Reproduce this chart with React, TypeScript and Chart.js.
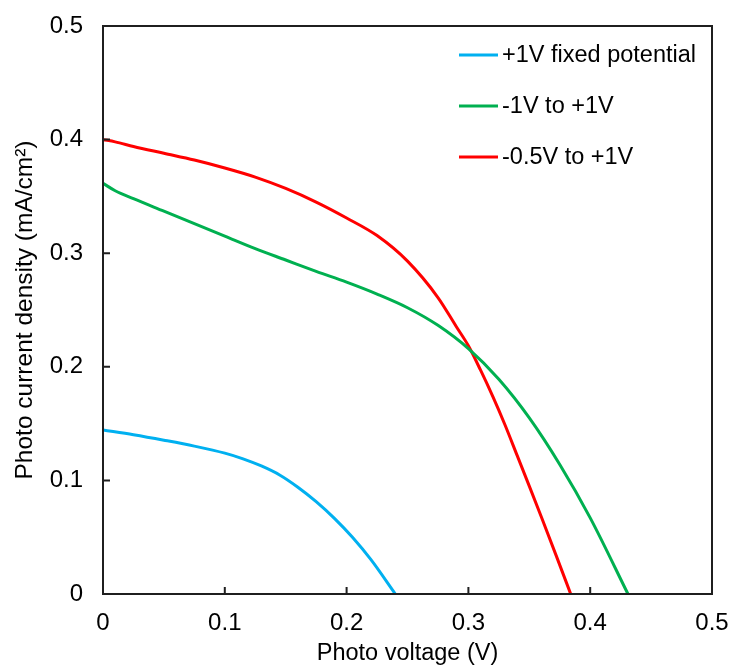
import React, { useEffect, useRef } from "react";
import { Chart, registerables } from "chart.js";

Chart.register(...registerables);

// Photo voltage (V) and photo current density (mA/cm²)
const voltageFixed = [0, 0.025, 0.05, 0.075, 0.1, 0.115, 0.13, 0.145, 0.16, 0.175, 0.19, 0.205, 0.22, 0.24];
const currentFixed = [0.1444, 0.1402, 0.1354, 0.1302, 0.124, 0.119, 0.1127, 0.1048, 0.094, 0.0813, 0.0666, 0.0497, 0.0302, 0];

const voltageMinus1 = [0, 0.01, 0.025, 0.05, 0.075, 0.1, 0.125, 0.15, 0.175, 0.2, 0.225, 0.25, 0.275, 0.3, 0.325, 0.35, 0.375, 0.4, 0.431];
const currentMinus1 = [0.3615, 0.355, 0.348, 0.337, 0.326, 0.315, 0.304, 0.294, 0.284, 0.2745, 0.264, 0.252, 0.2365, 0.216, 0.189, 0.155, 0.114, 0.067, 0];

const voltageMinus05 = [0, 0.01, 0.025, 0.05, 0.075, 0.1, 0.125, 0.15, 0.175, 0.2, 0.225, 0.25, 0.275, 0.29, 0.3, 0.31, 0.32, 0.33, 0.34, 0.35, 0.36, 0.372, 0.384];
const currentMinus05 = [0.4, 0.398, 0.394, 0.388, 0.382, 0.375, 0.367, 0.357, 0.345, 0.331, 0.3155, 0.293, 0.261, 0.2355, 0.2185, 0.197, 0.174, 0.149, 0.122, 0.095, 0.0675, 0.034, 0];

const seriesLabels = ["+1V fixed potential", "-1V to +1V", "-0.5V to +1V"];
const seriesColors = ["#00B0F0", "#00B050", "#FF0000"];

const xTitle = "Photo voltage (V)";
const yTitle = "Photo current density (mA/cm\u00B2)";

const FONT = "'Liberation Sans', Arial, sans-serif";
const AXIS_COLOR = "#1f1f1f";

const toPoints = (xs: number[], ys: number[]) => xs.map((x, i) => ({ x, y: ys[i] }));

const framePlugin = {
  id: "frameAndLegend",
  afterDraw(chart: any) {
    const { ctx, chartArea } = chart;
    const { left, right, top, bottom } = chartArea;
    const xs = chart.scales.x;
    const ys = chart.scales.y;
    ctx.save();
    ctx.strokeStyle = AXIS_COLOR;
    ctx.lineWidth = 2;
    ctx.strokeRect(left, top, right - left, bottom - top);
    // inward tick marks
    const tickLen = 7;
    ctx.beginPath();
    xs.ticks.forEach((t: any) => {
      const px = xs.getPixelForValue(t.value);
      if (Math.abs(px - left) < 1 || Math.abs(px - right) < 1) return;
      ctx.moveTo(px, bottom);
      ctx.lineTo(px, bottom - tickLen);
    });
    ys.ticks.forEach((t: any) => {
      const py = ys.getPixelForValue(t.value);
      if (Math.abs(py - top) < 1 || Math.abs(py - bottom) < 1) return;
      ctx.moveTo(left, py);
      ctx.lineTo(left + tickLen, py);
    });
    ctx.stroke();

    // legend
    const lx0 = right - 253;
    const lx1 = right - 214;
    const ly0 = top + 29;
    const step = 51;
    ctx.font = `23.5px ${FONT}`;
    ctx.textBaseline = "middle";
    ctx.textAlign = "left";
    chart.data.datasets.forEach((ds: any, i: number) => {
      const y = ly0 + i * step;
      ctx.strokeStyle = ds.borderColor;
      ctx.lineWidth = 3;
      ctx.beginPath();
      ctx.moveTo(lx0, y);
      ctx.lineTo(lx1, y);
      ctx.stroke();
      ctx.fillStyle = "#000";
      ctx.fillText(ds.label, lx1 + 4, y + 1);
    });
    ctx.restore();
  },
};

export default function App() {
  const canvasRef = useRef<HTMLCanvasElement | null>(null);

  useEffect(() => {
    document.body.style.margin = "0";
    const canvas = canvasRef.current;
    if (!canvas) return;
    const series = [
      toPoints(voltageFixed, currentFixed),
      toPoints(voltageMinus1, currentMinus1),
      toPoints(voltageMinus05, currentMinus05),
    ];
    const chart = new Chart(canvas, {
      type: "line",
      data: {
        datasets: series.map((data, i) => ({
          label: seriesLabels[i],
          data,
          borderColor: seriesColors[i],
          backgroundColor: seriesColors[i],
          borderWidth: 3,
          pointRadius: 0,
          cubicInterpolationMode: "monotone" as const,
          fill: false,
        })),
      },
      options: {
        animation: false,
        responsive: false,
        maintainAspectRatio: false,
        layout: { padding: { left: 0, right: 18, top: 26, bottom: 0 } },
        plugins: {
          legend: { display: false },
          tooltip: { enabled: false },
        },
        scales: {
          x: {
            type: "linear",
            min: 0,
            max: 0.5,
            ticks: {
              stepSize: 0.1,
              color: "#000",
              padding: 15,
              font: { family: FONT, size: 24 },
              maxRotation: 0,
            },
            grid: { display: false, drawTicks: false },
            border: { display: false },
            title: {
              display: true,
              text: xTitle,
              color: "#000",
              font: { family: FONT, size: 23.5 },
              padding: { top: 0, bottom: 4 },
            },
            afterFit(scale: any) {
              scale.height = 78;
              scale.paddingLeft = 0;
              scale.paddingRight = 0;
            },
          },
          y: {
            type: "linear",
            min: 0,
            max: 0.5,
            ticks: {
              stepSize: 0.1,
              color: "#000",
              padding: 20,
              font: { family: FONT, size: 24 },
            },
            grid: { display: false, drawTicks: false },
            border: { display: false },
            title: {
              display: true,
              text: yTitle,
              color: "#000",
              font: { family: FONT, size: 24.5 },
              padding: { top: 11, bottom: 0 },
            },
            afterFit(scale: any) {
              scale.width = 103;
              scale.paddingTop = 0;
              scale.paddingBottom = 0;
            },
          },
        },
      },
      plugins: [framePlugin],
    });
    return () => chart.destroy();
  }, []);

  return (
    <div style={{ width: 730, height: 672 }}>
      <canvas ref={canvasRef} width={730} height={672} />
    </div>
  );
}
